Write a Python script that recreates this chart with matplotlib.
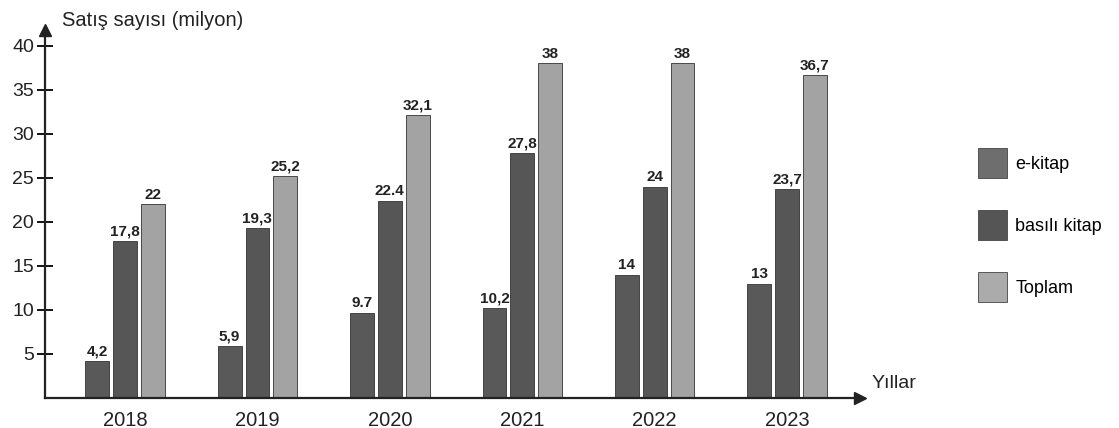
import matplotlib
matplotlib.use("Agg")
import matplotlib.pyplot as plt
from matplotlib.patches import Patch
import numpy as np

plt.rcParams['font.family'] = ['Liberation Sans', 'DejaVu Sans']

years = ['2018', '2019', '2020', '2021', '2022', '2023']
series_names = ['e-kitap', 'basılı kitap', 'Toplam']
e_kitap = [4.2, 5.9, 9.7, 10.2, 14, 13]
basili = [17.8, 19.3, 22.4, 27.8, 24, 23.7]
toplam = [22, 25.2, 32.1, 38, 38, 36.7]
e_labels = ['4,2', '5,9', '9.7', '10,2', '14', '13']
b_labels = ['17,8', '19,3', '22.4', '27,8', '24', '23,7']
t_labels = ['22', '25,2', '32,1', '38', '38', '36,7']
yticks = [5, 10, 15, 20, 25, 30, 35, 40]

colors = ['#595959', '#565656', '#a3a3a3']
legend_colors = ['#6e6e6e', '#555555', '#ababab']

fig = plt.figure(figsize=(11.19, 4.28), dpi=100)
ax = fig.add_axes([45/1119, 30/428, (860-45)/1119, (398-30)/428])

x = np.arange(len(years))
w = 0.18
off = 0.21
for vals, labs, dx, c in [(e_kitap, e_labels, -off, colors[0]),
                          (basili, b_labels, 0, colors[1]),
                          (toplam, t_labels, off, colors[2])]:
    bars = ax.bar(x + dx, vals, width=w, color=c, edgecolor='#333333', linewidth=0.6)
    ax.bar_label(bars, labels=labs, padding=2, fontsize=11, fontweight='bold', color='#222222')

ax.set_xlim(-0.604, 5.55)
ax.set_ylim(0, 41.8)
ax.set_yticks(yticks)
ax.set_yticklabels([str(v) for v in yticks], fontsize=14, color='#222222')
ax.tick_params(axis='y', direction='inout', length=12, width=1.3, pad=2)
ax.set_xticks(x)
ax.set_xticklabels(years, fontsize=14.5, color='#222222')
ax.tick_params(axis='x', length=0, pad=9)

for s in ['top', 'right']:
    ax.spines[s].set_visible(False)
for s in ['left', 'bottom']:
    ax.spines[s].set_linewidth(1.6)
    ax.spines[s].set_color('#222222')

ax.plot(1, 0, '>', color='#222222', markersize=9, transform=ax.transAxes, clip_on=False)
ax.plot(0, 1, '^', color='#222222', markersize=9, transform=ax.transAxes, clip_on=False)

fig.text(62/1119, 1 - 20/428, 'Satış sayısı (milyon)', fontsize=14.5, color='#222222', va='center', ha='left')
fig.text(872/1119, 1 - 383/428, 'Yıllar', fontsize=14, color='#222222', va='center', ha='left')

handles = [Patch(facecolor=legend_colors[i], edgecolor='#444444', linewidth=0.6, label=series_names[i]) for i in range(3)]
fig.legend(handles=handles, loc='upper left', bbox_to_anchor=(962/1119, 1 - 132/428),
           frameon=False, fontsize=13, handlelength=1.6, handleheight=2.2,
           labelspacing=1.75, handletextpad=0.45)

fig.savefig('out.png', dpi=100)
